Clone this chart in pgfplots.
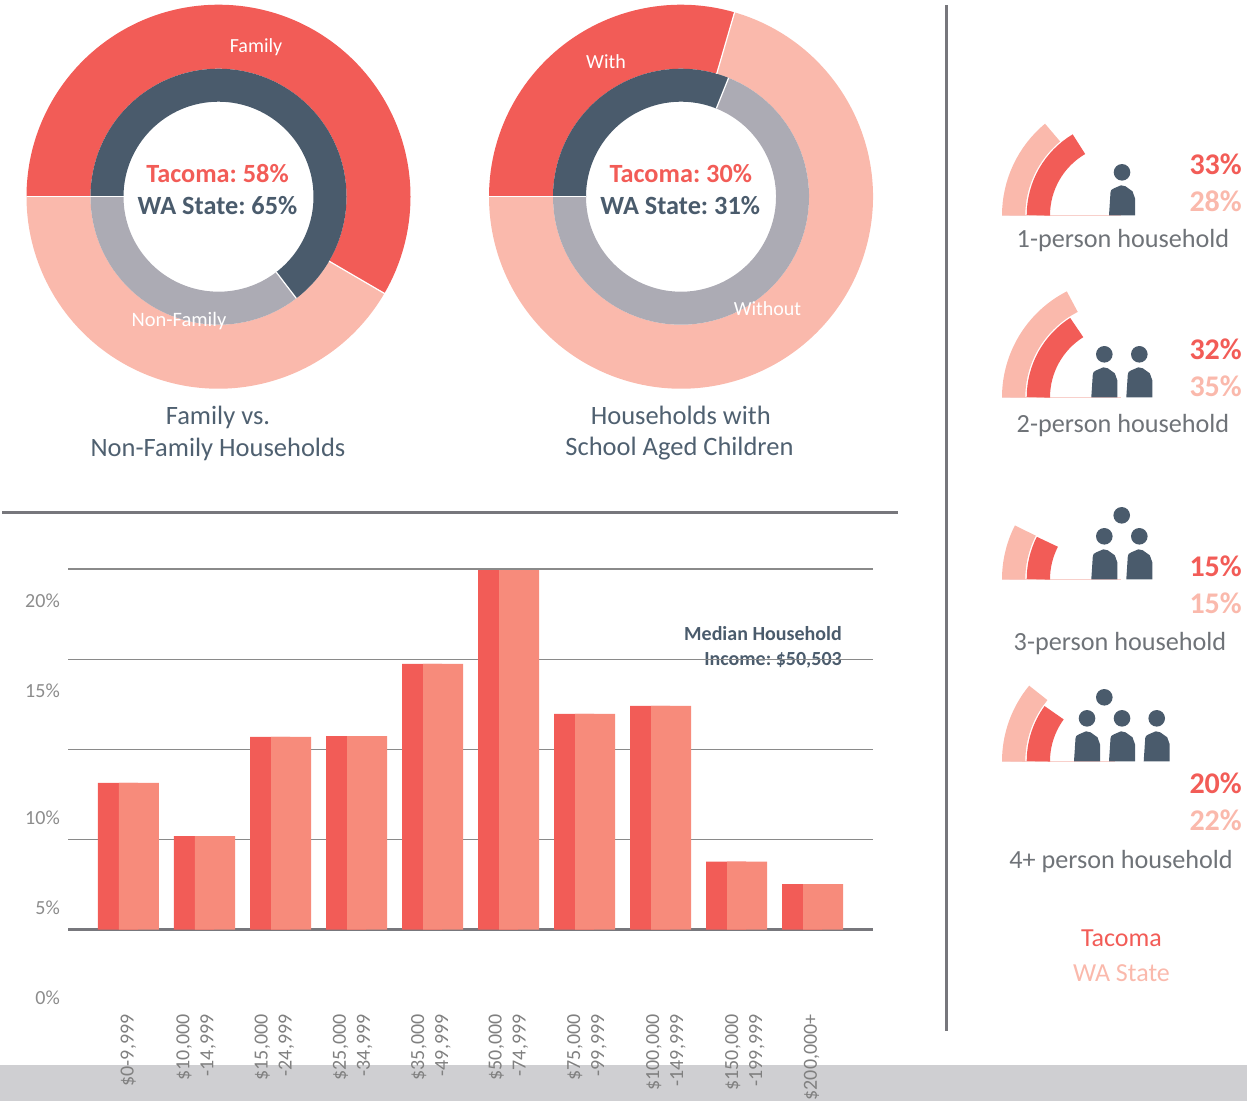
\documentclass[border=0pt]{standalone}
\usepackage{pgfplots}
\usepackage{pgfplotstable}
\usepackage{fontspec}
\setmainfont{Carlito}
\pgfplotsset{compat=1.18}
\definecolor{cred}{HTML}{F25C57}
\definecolor{cpale}{HTML}{FAB9AC}
\definecolor{cslate}{HTML}{4A5B6C}
\definecolor{cgrey}{HTML}{ACABB4}
\definecolor{cbar}{HTML}{F78B7B}
\definecolor{cband}{HTML}{CFCFD2}
\definecolor{crule}{HTML}{77777C}
\definecolor{ctxt}{HTML}{6F7378}
\definecolor{ctick}{HTML}{8C8C8C}
\definecolor{cxlab}{HTML}{808080}
\definecolor{cgrid}{HTML}{8A8A8A}
\definecolor{ctitle}{HTML}{4F6070}
\definecolor{cbase}{HTML}{F8D0CB}
\pgfplotstableread{
cat tacoma wa
0 8.13 8.13
1 5.18 5.18
2 10.69 10.69
3 10.73 10.73
4 14.73 14.73
5 19.94 19.94
6 11.96 11.96
7 12.41 12.41
8 3.76 3.76
9 2.52 2.52
}\incomedata
% donut segment: cx cy Router Rinner pstart pend colour
\newcommand{\seg}[7]{\draw[#7, line width={(#3-#4)*1pt}] (axis cs:#1,#2) ++({180-3.6*#5}:{(#3+#4)/2*1pt}) arc[start angle={180-3.6*#5}, end angle={180-3.6*#6}, radius={(#3+#4)/2*1pt}];}
\newcommand{\sep}[5]{\draw[white, line width=1.2pt] (axis cs:#1,#2) ++({180-3.6*#5}:{#3*1pt}) -- ++({180-3.6*#5}:{(#4-#3)*1pt});}
% gauge: cy Router Rinner p colour (semicircle = 100%)
\newcommand{\gauge}[5]{\draw[#5, line width={(#2-#3)*1pt}] (axis cs:1121,#1) ++(180:{(#2+#3)/2*1pt}) arc[start angle=180, end angle={180-1.8*#4}, radius={(#2+#3)/2*1pt}];}
\newcommand{\person}[2]{\fill[cslate, shift={(axis cs:#1,#2)}] (0pt,43pt) circle[radius=8.3pt];
\fill[cslate, shift={(axis cs:#1,#2)}] (-13pt,0pt) -- (-11.5pt,23pt) .. controls (-11pt,25.5pt) .. (-8pt,27pt) -- (-1pt,30pt) -- (3.5pt,29pt) -- (10.5pt,24pt) .. controls (12pt,21pt) .. (13pt,17pt) -- (13pt,0pt) -- cycle;}
\newcommand{\lab}[6]{\node[text=#4, anchor=mid, inner sep=0pt, yshift={-0.24*#3*1pt}, font=\fontsize{#3}{#3}\selectfont#5, align=center] at (axis cs:#1,#2) {#6};}
\newcommand{\rlab}[6]{\node[text=#4, anchor=mid east, inner sep=0pt, yshift={-0.24*#3*1pt}, font=\fontsize{#3}{#3}\selectfont#5] at (axis cs:#1,#2) {#6};}
\begin{document}
\frenchspacing
\begin{tikzpicture}
\useasboundingbox (0pt,0pt) rectangle (1247pt,1101pt);
\begin{axis}[at={(0pt,0pt)}, anchor=south west, scale only axis, width=1247pt, height=1101pt,
  xmin=0, xmax=1247, ymin=0, ymax=1101, y dir=reverse, hide axis, clip=false]
\fill[cband] (axis cs:0,1064.6) rectangle (axis cs:1247,1101);
\draw[crule, line width=3pt] (axis cs:2,512) -- (axis cs:898,512);
\draw[crule, line width=3pt] (axis cs:946,5) -- (axis cs:946,1031);
% Donut 1
\seg{218.5}{196.7}{192}{128}{0}{58.4}{cred}
\seg{218.5}{196.7}{192}{128}{58.4}{100}{cpale}
\seg{218.5}{196.7}{128}{95}{0}{64.6}{cslate}
\seg{218.5}{196.7}{128}{95}{64.6}{100}{cgrey}
\sep{218.5}{196.7}{192}{128}{0}
\sep{218.5}{196.7}{192}{128}{58.4}
\sep{218.5}{196.7}{128}{95}{0}
\sep{218.5}{196.7}{128}{95}{64.6}
% Donut 2
\seg{681}{196.7}{192}{128}{0}{29.5}{cred}
\seg{681}{196.7}{192}{128}{29.5}{100}{cpale}
\seg{681}{196.7}{128}{95}{0}{31.06}{cslate}
\seg{681}{196.7}{128}{95}{31.06}{100}{cgrey}
\sep{681}{196.7}{192}{128}{0}
\sep{681}{196.7}{192}{128}{29.5}
\sep{681}{196.7}{128}{95}{0}
\sep{681}{196.7}{128}{95}{31.06}
\lab{256}{45}{20}{white}{}{Family}
\lab{179}{319.5}{20.5}{white}{}{Non-Family}
\lab{606}{61}{20}{white}{}{With}
\lab{767.5}{308.5}{20}{white}{}{Without}
\lab{217.5}{173.5}{26.3}{cred}{\bfseries}{Tacoma: 58\%}
\lab{217.5}{205.7}{26.3}{cslate}{\bfseries}{WA State: 65\%}
\lab{680.8}{173.5}{26.3}{cred}{\bfseries}{Tacoma: 30\%}
\lab{680.2}{205.7}{26.3}{cslate}{\bfseries}{WA State: 31\%}
\lab{218}{415.7}{26.5}{ctitle}{}{Family vs.}
\lab{218}{447.7}{26.5}{ctitle}{}{Non-Family Households}
\lab{680.8}{415.5}{26.5}{ctitle}{}{Households with}
\lab{679.5}{447.2}{26.5}{ctitle}{}{School Aged Children}
% Median note
\rlab{842}{633.5}{20}{cslate}{\bfseries}{Median Household}
\rlab{842}{658}{20}{cslate}{\bfseries}{Income: \$50,503}
% y labels
\rlab{60}{600.8}{20}{ctick}{}{20\%}
\rlab{60}{690.5}{20}{ctick}{}{15\%}
\rlab{60}{817}{20}{ctick}{}{10\%}
\rlab{60}{907.4}{20}{ctick}{}{5\%}
\rlab{60}{997.5}{20}{ctick}{}{0\%}
% Gauges
\draw[cbase, line width=1pt] (axis cs:1002,215.3) -- (axis cs:1121,215.3);
\gauge{215.3}{119}{95.7}{28}{cpale}
\gauge{215.3}{94.3}{71}{33}{cred}
\person{1122}{215.3}
\draw[cbase, line width=1pt] (axis cs:1002,397.3) -- (axis cs:1121,397.3);
\gauge{397.3}{119}{95.7}{35}{cpale}
\gauge{397.3}{94.3}{71}{32}{cred}
\person{1104.3}{397.3}
\person{1139.3}{397.3}
\draw[cbase, line width=1pt] (axis cs:1002,579.3) -- (axis cs:1121,579.3);
\gauge{579.3}{119}{95.7}{15}{cpale}
\gauge{579.3}{94.3}{71}{15}{cred}
\person{1104.3}{579.3}
\person{1139.3}{579.3}
\fill[cslate] (axis cs:1121.7,515.3) circle[radius=8.3pt];
\draw[cbase, line width=1pt] (axis cs:1002,761.3) -- (axis cs:1115,761.3);
\gauge{761.3}{119}{95.7}{22}{cpale}
\gauge{761.3}{94.3}{71}{20}{cred}
\person{1087}{761.3}
\person{1122}{761.3}
\person{1156.7}{761.3}
\fill[cslate] (axis cs:1104.3,697.3) circle[radius=8.3pt];
% Right side text
\rlab{1242}{165}{30}{cred}{\bfseries}{33\%}
\rlab{1242}{202}{30}{cpale}{\bfseries}{28\%}
\rlab{1242}{350}{30}{cred}{\bfseries}{32\%}
\rlab{1242}{387}{30}{cpale}{\bfseries}{35\%}
\rlab{1242}{566.7}{30}{cred}{\bfseries}{15\%}
\rlab{1242}{603.5}{30}{cpale}{\bfseries}{15\%}
\rlab{1242}{784}{30}{cred}{\bfseries}{20\%}
\rlab{1242}{821}{30}{cpale}{\bfseries}{22\%}
\lab{1123}{239}{26.2}{ctxt}{}{1-person household}
\lab{1123}{424}{26.2}{ctxt}{}{2-person household}
\lab{1120}{642}{26.2}{ctxt}{}{3-person household}
\lab{1121}{860}{26.2}{ctxt}{}{4+ person household}
\lab{1121.5}{938}{26}{cred}{}{Tacoma}
\lab{1121.5}{973}{26}{cpale}{}{WA State}
\end{axis}
\begin{axis}[at={(68pt,171.5pt)}, anchor=south west, scale only axis, width=805pt, height=360.5pt,
  xmin=-0.796, xmax=9.796, ymin=0, ymax=20,
  ybar, bar width=40pt,
  axis y line*=left, axis x line*=bottom,
  x axis line style={-, color=crule, line width=3pt},
  y axis line style={draw=none},
  ytick={0,5,10,15,20}, yticklabels={}, ytick style={draw=none},
  ymajorgrids, grid style={cgrid, line width=1.2pt},
  xtick={0,0.89,1.92,2.95,3.98,5,6.03,7.07,8.11,8.99},
  xticklabels={{\$0-9,999},{\$10,000\\-14,999},{\$15,000\\-24,999},{\$25,000\\-34,999},{\$35,000\\-49,999},{\$50,000\\-74,999},{\$75,000\\-99,999},{\$100,000\\-149,999},{\$150,000\\-199,999},{\$200,000+}},
  xtick style={draw=none},
  x tick label style={rotate=90, anchor=east, align=right, inner sep=0pt, text=cxlab, xshift=-80.5pt,
    font=\fontsize{20}{24}\selectfont},
  clip=false]
\addplot[bar shift=-10.5pt, fill=cred, draw=none] table[x=cat, y=tacoma] {\incomedata};
\addplot[bar shift=10.5pt, fill=cbar, draw=none] table[x=cat, y=wa] {\incomedata};
\end{axis}
\end{tikzpicture}
\end{document}
